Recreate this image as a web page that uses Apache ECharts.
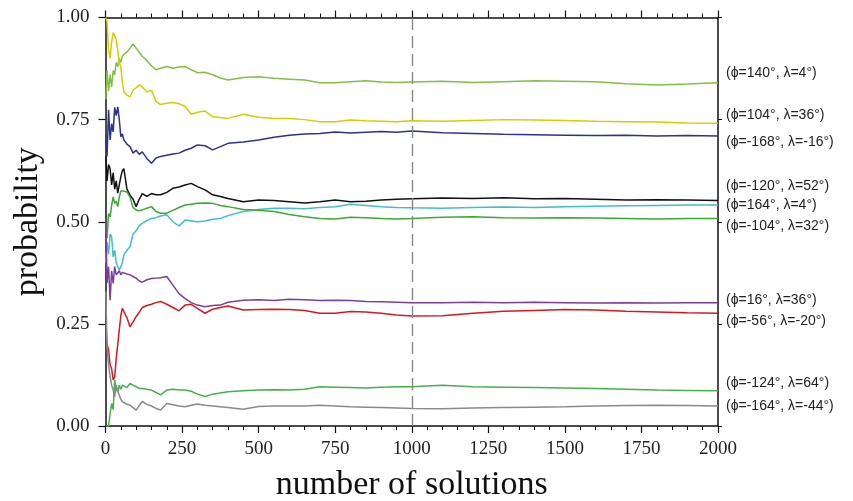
<!DOCTYPE html>
<html>
<head>
<meta charset="utf-8">
<script src="https://cdn.jsdelivr.net/npm/echarts@6/dist/echarts.min.js"></script>
<style>
  html, body { margin: 0; padding: 0; background: #fff; }
  #main { width: 853px; height: 501px; }
</style>
</head>
<body>
<div id="main"></div>
<script>
// number of solutions at which probabilities were sampled
const solutions = [1, 5, 10, 15, 20, 25, 30, 35, 40, 45, 50, 55, 60, 70, 80, 90, 100, 110, 120, 135,
  150, 165, 180, 200, 220, 240, 260, 280, 300, 325, 350, 375, 400, 450, 500, 550, 600, 650, 700, 750,
  800, 850, 900, 950, 1000, 1100, 1200, 1300, 1400, 1500, 1600, 1700, 1800, 1900, 2000]

const names = [
  '(ϕ=140°, λ=4°)', '(ϕ=104°, λ=36°)', '(ϕ=-168°, λ=-16°)', '(ϕ=-120°, λ=52°)', '(ϕ=164°, λ=4°)',
  '(ϕ=-104°, λ=32°)', '(ϕ=16°, λ=36°)', '(ϕ=-56°, λ=-20°)', '(ϕ=-124°, λ=64°)', '(ϕ=-164°, λ=-44°)'
]

const p140 = [0.80, 0.87, 0.82, 0.86, 0.83, 0.87, 0.86, 0.89, 0.88, 0.90, 0.89, 0.905, 0.91, 0.915, 0.925, 0.935, 0.925, 0.915, 0.905, 0.895,
  0.882, 0.872, 0.876, 0.88, 0.876, 0.879, 0.88, 0.872, 0.865, 0.866, 0.86, 0.852, 0.847, 0.853, 0.855, 0.851, 0.849, 0.847, 0.84, 0.84,
  0.843, 0.845, 0.842, 0.841, 0.842, 0.844, 0.841, 0.843, 0.845, 0.844, 0.843, 0.838, 0.835, 0.837, 0.84]
const p104 = [1.0, 0.99, 0.92, 0.90, 0.94, 0.963, 0.955, 0.945, 0.92, 0.89, 0.88, 0.84, 0.818, 0.81, 0.806, 0.822, 0.828, 0.835, 0.83, 0.818,
  0.822, 0.794, 0.787, 0.79, 0.792, 0.789, 0.782, 0.763, 0.768, 0.771, 0.757, 0.755, 0.753, 0.763, 0.756, 0.753, 0.753, 0.75, 0.745, 0.745,
  0.749, 0.747, 0.746, 0.745, 0.747, 0.746, 0.748, 0.75, 0.749, 0.748, 0.746, 0.745, 0.744, 0.742, 0.741]
const pm168 = [0.70, 0.66, 0.774, 0.70, 0.74, 0.72, 0.78, 0.76, 0.781, 0.75, 0.708, 0.715, 0.70, 0.69, 0.684, 0.668, 0.675, 0.665, 0.671, 0.655,
  0.643, 0.656, 0.66, 0.663, 0.666, 0.668, 0.675, 0.68, 0.688, 0.686, 0.676, 0.684, 0.692, 0.695, 0.70, 0.707, 0.712, 0.715, 0.716, 0.72,
  0.717, 0.719, 0.721, 0.719, 0.722, 0.718, 0.716, 0.714, 0.713, 0.712, 0.711, 0.712, 0.71, 0.711, 0.71]
const pm120 = [0.66, 0.60, 0.64, 0.63, 0.59, 0.62, 0.58, 0.60, 0.57, 0.59, 0.61, 0.625, 0.63, 0.58, 0.565, 0.555, 0.537, 0.555, 0.569, 0.562,
  0.569, 0.566, 0.566, 0.572, 0.582, 0.585, 0.59, 0.594, 0.586, 0.578, 0.566, 0.562, 0.557, 0.549, 0.553, 0.552, 0.549, 0.546, 0.549, 0.553,
  0.549, 0.55, 0.553, 0.555, 0.556, 0.558, 0.557, 0.559, 0.556, 0.557, 0.555, 0.553, 0.554, 0.553, 0.552]
const p164 = [0.40, 0.45, 0.42, 0.47, 0.463, 0.414, 0.43, 0.40, 0.39, 0.382, 0.39, 0.40, 0.419, 0.43, 0.439, 0.47, 0.478, 0.49, 0.496, 0.503,
  0.508, 0.51, 0.514, 0.517, 0.50, 0.49, 0.504, 0.502, 0.50, 0.502, 0.506, 0.508, 0.515, 0.525, 0.53, 0.533, 0.533, 0.532, 0.535, 0.537,
  0.543, 0.54, 0.537, 0.535, 0.534, 0.533, 0.535, 0.536, 0.535, 0.537, 0.538, 0.539, 0.54, 0.541, 0.541]
const pm104 = [0.50, 0.46, 0.52, 0.512, 0.54, 0.561, 0.545, 0.55, 0.537, 0.56, 0.575, 0.578, 0.575, 0.573, 0.56, 0.535, 0.529, 0.527, 0.529, 0.533,
  0.537, 0.525, 0.521, 0.521, 0.528, 0.535, 0.541, 0.543, 0.545, 0.546, 0.545, 0.54, 0.537, 0.53, 0.528, 0.525, 0.518, 0.512, 0.508, 0.507,
  0.511, 0.51, 0.508, 0.507, 0.508, 0.511, 0.512, 0.51, 0.509, 0.51, 0.509, 0.508, 0.507, 0.508, 0.508]
const p16 = [0.50, 0.35, 0.39, 0.308, 0.38, 0.349, 0.39, 0.37, 0.374, 0.38, 0.37, 0.376, 0.374, 0.372, 0.37, 0.366, 0.362, 0.355, 0.352, 0.358,
  0.361, 0.362, 0.363, 0.366, 0.345, 0.324, 0.312, 0.302, 0.296, 0.292, 0.295, 0.296, 0.303, 0.308, 0.309, 0.307, 0.31, 0.309, 0.307, 0.308,
  0.307, 0.305, 0.304, 0.303, 0.302, 0.302, 0.303, 0.302, 0.303, 0.302, 0.301, 0.302, 0.301, 0.302, 0.302]
const pm56 = [0.25, 0.20, 0.186, 0.15, 0.14, 0.113, 0.12, 0.165, 0.20, 0.235, 0.27, 0.288, 0.28, 0.265, 0.243, 0.255, 0.268, 0.278, 0.29, 0.295,
  0.298, 0.302, 0.305, 0.298, 0.29, 0.282, 0.296, 0.298, 0.288, 0.276, 0.286, 0.29, 0.294, 0.284, 0.285, 0.286, 0.285, 0.283, 0.276, 0.276,
  0.28, 0.279, 0.276, 0.272, 0.269, 0.27, 0.276, 0.281, 0.283, 0.285, 0.284, 0.281, 0.279, 0.277, 0.276]
const pm124 = [0.0, 0.0, 0.0, 0.03, 0.055, 0.04, 0.113, 0.09, 0.084, 0.10, 0.09, 0.10, 0.10, 0.094, 0.104, 0.10, 0.096, 0.092, 0.092, 0.09,
  0.088, 0.082, 0.076, 0.088, 0.09, 0.088, 0.088, 0.085, 0.078, 0.072, 0.078, 0.081, 0.084, 0.086, 0.088, 0.089, 0.088, 0.09, 0.096, 0.095,
  0.094, 0.093, 0.095, 0.096, 0.096, 0.10, 0.096, 0.095, 0.094, 0.093, 0.092, 0.09, 0.088, 0.087, 0.086]
const pm164 = [0.33, 0.194, 0.15, 0.121, 0.10, 0.088, 0.072, 0.10, 0.085, 0.075, 0.065, 0.06, 0.058, 0.053, 0.051, 0.045, 0.039, 0.05, 0.06, 0.053,
  0.049, 0.043, 0.039, 0.055, 0.052, 0.049, 0.047, 0.051, 0.054, 0.051, 0.049, 0.047, 0.045, 0.041, 0.048, 0.049, 0.049, 0.049, 0.051, 0.049,
  0.047, 0.046, 0.045, 0.044, 0.043, 0.042, 0.044, 0.045, 0.046, 0.047, 0.049, 0.05, 0.051, 0.05, 0.049]

const values = [p140, p104, pm168, pm120, p164, pm104, p16, pm56, pm124, pm164]
const colors = ['#80c142', '#d2cf00', '#2e3192', '#111111', '#3ec0c8', '#3aaa35', '#7b3f98', '#d7191f', '#45b04c', '#8a8a8a']
// vertical shift of each right-hand label from the end of its line (px)
const labelShift = [-9.5, -8, 6.5, -14.5, 0, 7.5, -2.5, 7.5, -8, 0]

const xTicks = { min: 0, max: 2000, interval: 250 }
const yTicks = { min: 0, max: 1, interval: 0.25 }

const serif = 'Liberation Serif'
const axisLine = { show: true, onZero: false, lineStyle: { color: '#111', width: 1.5 } }
const majorTick = { show: true, length: 7, lineStyle: { color: '#111', width: 1.2 } }
const minorTick = { show: true, splitNumber: 5, length: 4, lineStyle: { color: '#111', width: 1 } }

const series = values.map((v, i) => ({
  name: names[i],
  type: 'line',
  data: solutions.map((s, j) => [s, v[j]]),
  showSymbol: false,
  animation: false,
  lineStyle: { color: colors[i], width: 1.5 },
  itemStyle: { color: colors[i] },
  endLabel: {
    show: true,
    formatter: '{a}',
    distance: 8,
    offset: [0, labelShift[i]],
    color: '#222',
    fontFamily: 'Liberation Sans, DejaVu Sans',
    fontSize: 14
  },
  markLine: i === 0 ? {
    silent: true,
    symbol: 'none',
    label: { show: false },
    lineStyle: { color: '#888', type: [12, 6], width: 1.4 },
    data: [{ xAxis: 1000 }]
  } : undefined
}))

const myChart = echarts.init(document.getElementById('main'))
myChart.setOption({
  animation: false,
  backgroundColor: '#fff',
  grid: { left: 105.5, right: 135, top: 17.5, bottom: 75, outerBoundsMode: 'none' },
  xAxis: [
    {
      type: 'value', ...xTicks, position: 'bottom',
      name: 'number of solutions', nameLocation: 'middle', nameGap: 42,
      nameTextStyle: { fontFamily: serif, fontSize: 34, color: '#111' },
      axisLine, splitLine: { show: false },
      axisTick: majorTick, minorTick,
      axisLabel: { fontFamily: serif, fontSize: 19, color: '#222', margin: 14, formatter: v => String(v) }
    },
    {
      type: 'value', ...xTicks, position: 'top',
      axisLine, splitLine: { show: false },
      axisTick: majorTick, minorTick,
      axisLabel: { show: false }
    }
  ],
  yAxis: [
    {
      type: 'value', ...yTicks, position: 'left',
      name: 'probability', nameLocation: 'middle', nameGap: 52,
      nameTextStyle: { fontFamily: serif, fontSize: 34, color: '#111' },
      axisLine, splitLine: { show: false },
      axisTick: majorTick,
      axisLabel: { fontFamily: serif, fontSize: 19, color: '#222', margin: 16, formatter: v => v.toFixed(2) }
    },
    {
      type: 'value', ...yTicks, position: 'right',
      axisLine, splitLine: { show: false },
      axisTick: { show: true, length: 4, lineStyle: { color: '#111', width: 1 } },
      axisLabel: { show: false }
    }
  ],
  series
})
</script>
</body>
</html>
